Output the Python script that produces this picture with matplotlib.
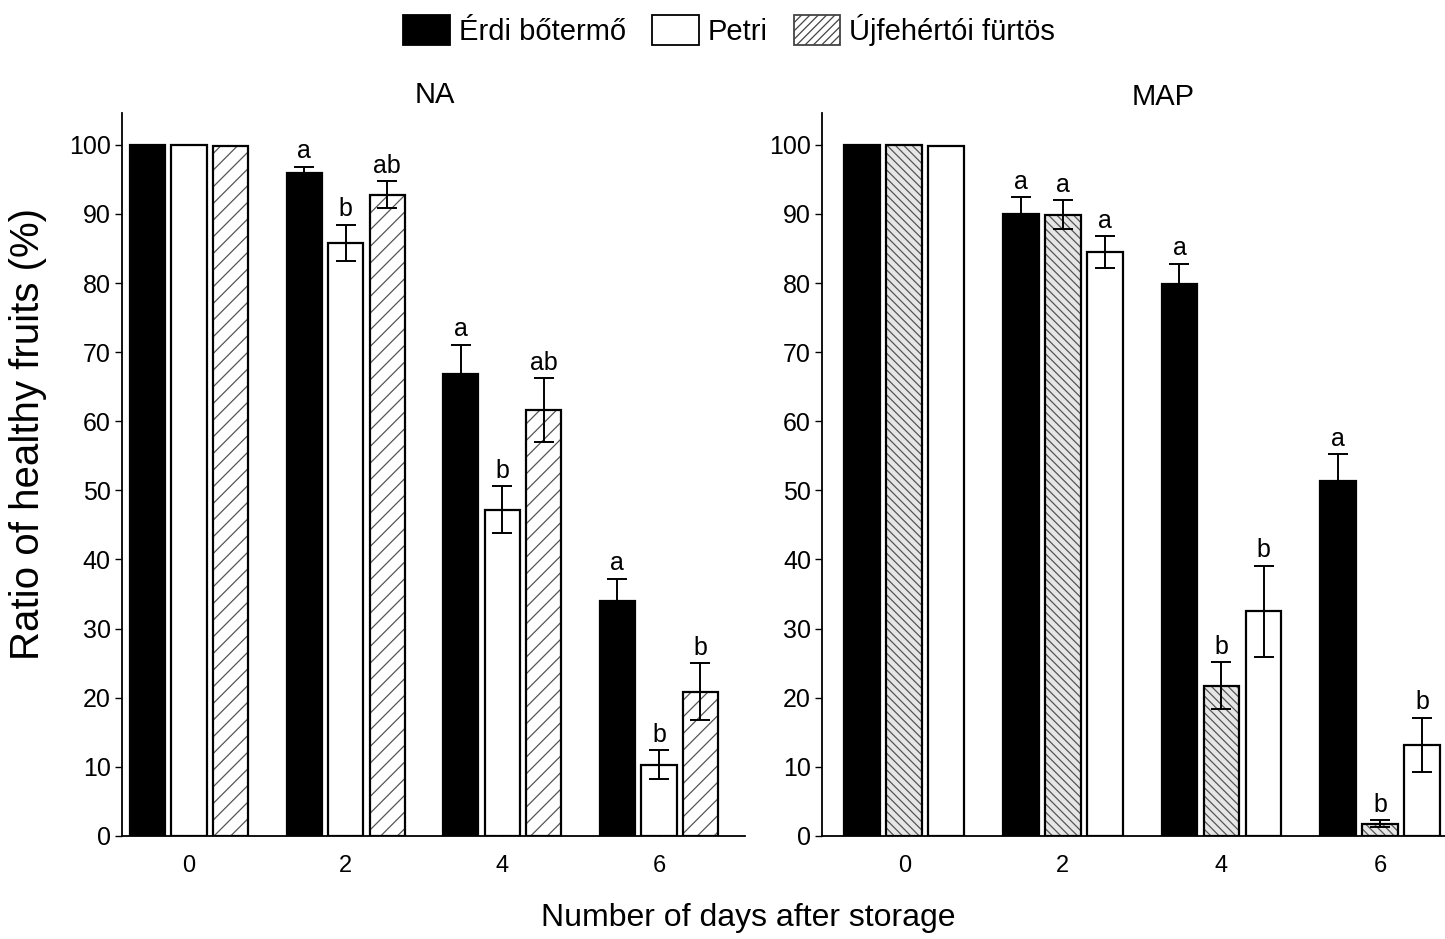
import numpy as np
import matplotlib

matplotlib.use("Agg")
import matplotlib.pyplot as plt
from matplotlib.patches import Patch

plt.rcParams["font.family"] = ["Liberation Sans", "DejaVu Sans"]
plt.rcParams["hatch.linewidth"] = 0.9

days = ["0", "2", "4", "6"]
cultivars = ["Érdi bőtermő", "Petri", "Újfehértói fürtös"]

# NA storage: mean ratio of healthy fruits and error
na_erdi = [100.0, 95.9, 66.9, 34.0]
na_erdi_err = [0.0, 0.9, 4.2, 3.2]
na_petri = [100.0, 85.8, 47.2, 10.3]
na_petri_err = [0.0, 2.6, 3.4, 2.1]
na_ujf = [99.8, 92.8, 61.6, 20.9]
na_ujf_err = [0.0, 1.9, 4.6, 4.1]
na_letters = [["", "", ""], ["a", "b", "ab"], ["a", "b", "ab"], ["a", "b", "b"]]

# MAP storage (bar order: Érdi, Újfehértói, Petri)
map_erdi = [100.0, 90.0, 79.8, 51.3]
map_erdi_err = [0.0, 2.4, 3.0, 3.9]
map_ujf = [100.0, 89.9, 21.7, 1.8]
map_ujf_err = [0.0, 2.1, 3.4, 0.5]
map_petri = [99.8, 84.5, 32.5, 13.2]
map_petri_err = [0.0, 2.3, 6.6, 3.9]
map_letters = [["", "", ""], ["a", "a", "a"], ["a", "b", "b"], ["a", "b", "b"]]

STYLE = {
    "black": dict(color="black", hatch=None),
    "white": dict(color="white", hatch=None),
    "na_hatch": dict(color="white", hatch="//"),
    "map_hatch": dict(color="#e6e6e6", hatch="\\\\\\\\"),
}

fig = plt.figure(figsize=(14.45, 9.39), dpi=100)
ax_na = fig.add_axes([0.0844, 0.1097, 0.431, 0.770])
ax_map = fig.add_axes([0.569, 0.1097, 0.431, 0.770])

offsets = [-0.265, 0.0, 0.265]
width = 0.225
x = np.arange(len(days))


def draw_panel(ax, series, letters, title, title_x, title_y):
    for k, (vals, errs, style) in enumerate(series):
        pos = x + offsets[k]
        st = STYLE[style]
        if st["hatch"]:
            ax.bar(pos, vals, width, color=st["color"], edgecolor="#555555",
                   hatch=st["hatch"], linewidth=0, zorder=2)
            ax.bar(pos, vals, width, fill=False, edgecolor="black",
                   linewidth=1.6, zorder=3)
        else:
            ax.bar(pos, vals, width, color=st["color"], edgecolor="black",
                   linewidth=1.6, zorder=3)
        mask = np.array(errs) > 0
        ax.errorbar(pos[mask], np.array(vals)[mask], yerr=np.array(errs)[mask],
                    fmt="none", ecolor="black", elinewidth=1.4, capsize=7,
                    capthick=1.4, zorder=4)
        for i in range(len(days)):
            lab = letters[i][k]
            if lab:
                ax.text(pos[i], vals[i] + errs[i] + 0.5, lab, ha="center",
                        va="bottom", fontsize=18)
    ax.set_ylim(0, 104.6)
    ax.set_yticks(range(0, 101, 10))
    ax.set_xticks(x)
    ax.set_xticklabels(days)
    ax.tick_params(axis="y", labelsize=18, direction="out", length=5,
                   width=1.0, pad=3)
    ax.tick_params(axis="x", labelsize=17, direction="in", length=4,
                   width=1.0, pad=14)
    for side in ("top", "right"):
        ax.spines[side].set_visible(False)
    for side in ("left", "bottom"):
        ax.spines[side].set_linewidth(1.3)
    ax.text(title_x, title_y, title, transform=ax.transAxes, ha="center",
            va="center", fontsize=21)


draw_panel(ax_na,
           [(na_erdi, na_erdi_err, "black"),
            (na_petri, na_petri_err, "white"),
            (na_ujf, na_ujf_err, "na_hatch")],
           na_letters, "NA", 0.502, 1.025)
ax_na.set_xlim(-0.428, 3.548)

draw_panel(ax_map,
           [(map_erdi, map_erdi_err, "black"),
            (map_ujf, map_ujf_err, "map_hatch"),
            (map_petri, map_petri_err, "white")],
           map_letters, "MAP", 0.547, 1.022)
ax_map.set_xlim(-0.517, 3.409)

fig.text(0.0194, 0.538, "Ratio of healthy fruits (%)", rotation=90,
         ha="center", va="center", fontsize=29)
fig.text(0.518, 0.0224, "Number of days after storage", ha="center",
         va="center", fontsize=23)

handles = [
    Patch(facecolor="black", edgecolor="black", linewidth=1.3),
    Patch(facecolor="white", edgecolor="black", linewidth=1.3),
    Patch(facecolor="white", edgecolor="#444444", hatch="////", linewidth=1.3),
]
fig.legend(handles, cultivars, loc="center", bbox_to_anchor=(0.5045, 0.968),
           ncol=3, frameon=False, fontsize=21, handlelength=1.6,
           handleheight=1.2, handletextpad=0.3, columnspacing=0.9)

fig.savefig("out.png", dpi=100)
